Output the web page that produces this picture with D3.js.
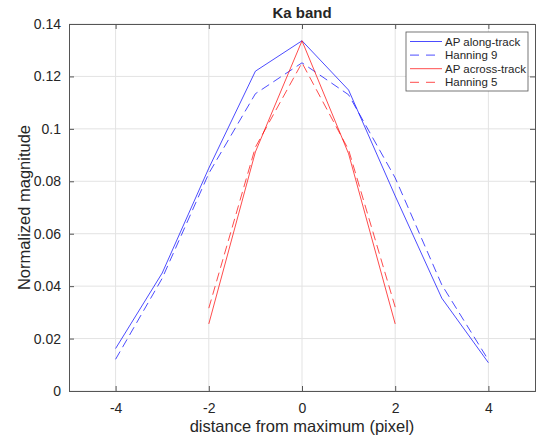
<!DOCTYPE html>
<html>
<head>
<meta charset="utf-8">
<script src="https://cdn.jsdelivr.net/npm/d3@7"></script>
<style>
  body { margin: 0; background: #fff; }
  text { font-family: "Liberation Sans", Arial, sans-serif; fill: #262626; }
</style>
</head>
<body>
<div id="chart"></div>
<script>
// Data
let offsets = [-4, -3, -2, -1, 0, 1, 2, 3, 4];
let alongTrack = [0.0162, 0.0450, 0.0850, 0.1220, 0.1336, 0.1148, 0.0744, 0.0354, 0.0108];
let hanning9 = [0.0121, 0.0430, 0.0830, 0.1134, 0.1252, 0.1130, 0.0813, 0.0405, 0.0118];
let acrossOffsets = [-2, -1, 0, 1, 2];
let acrossTrack = [0.0256, 0.0912, 0.1336, 0.0905, 0.0256];
let hanning5 = [0.0316, 0.0930, 0.1252, 0.0920, 0.0320];
let xTicks = [-4, -2, 0, 2, 4];
let yTicks = [0, 0.02, 0.04, 0.06, 0.08, 0.1, 0.12, 0.14];

let series = [
    { name: "AP along-track", x: offsets, y: alongTrack, color: "#0000ff", dash: null },
    { name: "Hanning 9", x: offsets, y: hanning9, color: "#0000ff", dash: "9,5" },
    { name: "AP across-track", x: acrossOffsets, y: acrossTrack, color: "#ff0000", dash: null },
    { name: "Hanning 5", x: acrossOffsets, y: hanning5, color: "#ff0000", dash: "9,5" }
];

let width = 539, height = 441;
let margin = { top: 24, right: 4, bottom: 50, left: 69 };
let innerW = width - margin.left - margin.right;
let innerH = height - margin.top - margin.bottom;

let svg = d3.select("#chart").append("svg")
    .attr("width", width)
    .attr("height", height);

let x = d3.scaleLinear().domain([-5, 5]).range([margin.left, margin.left + innerW]);
let y = d3.scaleLinear().domain([0, 0.14]).range([margin.top + innerH, margin.top]);

// grid
svg.append("g").selectAll("line").data(xTicks).join("line")
    .attr("x1", d => x(d)).attr("x2", d => x(d))
    .attr("y1", margin.top).attr("y2", margin.top + innerH)
    .attr("stroke", "#e3e3e3").attr("stroke-width", 1);
svg.append("g").selectAll("line").data(yTicks).join("line")
    .attr("y1", d => y(d)).attr("y2", d => y(d))
    .attr("x1", margin.left).attr("x2", margin.left + innerW)
    .attr("stroke", "#e3e3e3").attr("stroke-width", 1);

// lines
let line = d3.line();
series.forEach(s => {
    svg.append("path")
        .datum(s.x.map((v, i) => [x(v), y(s.y[i])]))
        .attr("d", line)
        .attr("fill", "none")
        .attr("stroke", s.color)
        .attr("stroke-opacity", 0.7)
        .attr("stroke-width", 1)
        .attr("stroke-dasharray", s.dash);
});

// axes
let axisColor = "#555";
let xAxis = svg.append("g")
    .attr("transform", `translate(0,${margin.top + innerH})`)
    .call(d3.axisBottom(x).tickValues(xTicks).tickSize(-5).tickPadding(12).tickFormat(d => String(d)));
let xTop = svg.append("g")
    .attr("transform", `translate(0,${margin.top})`)
    .call(d3.axisTop(x).tickValues(xTicks).tickSize(-5).tickFormat(""));
let yAxis = svg.append("g")
    .attr("transform", `translate(${margin.left},0)`)
    .call(d3.axisLeft(y).tickValues(yTicks).tickSize(-5).tickPadding(8).tickFormat(d => String(+d.toFixed(2))));
let yRight = svg.append("g")
    .attr("transform", `translate(${margin.left + innerW},0)`)
    .call(d3.axisRight(y).tickValues(yTicks).tickSize(-5).tickFormat(""));

[xAxis, xTop, yAxis, yRight].forEach(a => {
    a.select(".domain").attr("stroke", axisColor);
    a.selectAll(".tick line").attr("stroke", axisColor);
    a.selectAll(".tick text").style("font-size", "14px").attr("fill", "#262626")
        .style("font-family", "'Liberation Sans', Arial, sans-serif");
});

// title and labels
svg.append("text")
    .attr("x", margin.left + innerW / 2).attr("y", 18)
    .attr("text-anchor", "middle")
    .style("font-size", "15px").style("font-weight", "bold")
    .text("Ka band");
svg.append("text")
    .attr("x", margin.left + innerW / 2).attr("y", 432)
    .attr("text-anchor", "middle")
    .style("font-size", "16.5px")
    .text("distance from maximum (pixel)");
svg.append("text")
    .attr("transform", `translate(30,${margin.top + innerH / 2}) rotate(-90)`)
    .attr("text-anchor", "middle")
    .style("font-size", "16.5px")
    .text("Normalized magnitude");

// legend
let legend = svg.append("g").attr("transform", "translate(406,32)");
legend.append("rect")
    .attr("width", 122).attr("height", 59)
    .attr("fill", "#fff").attr("stroke", "#555").attr("stroke-width", 0.8);
series.forEach((s, i) => {
    let ly = 9.5 + i * 13.6;
    legend.append("line")
        .attr("x1", 4).attr("x2", 36).attr("y1", ly).attr("y2", ly)
        .attr("stroke", s.color).attr("stroke-opacity", 0.7)
        .attr("stroke-dasharray", s.dash ? "9,7" : null);
    legend.append("text")
        .attr("x", 39).attr("y", ly + 4)
        .style("font-size", "11.5px")
        .text(s.name);
});
</script>
</body>
</html>
